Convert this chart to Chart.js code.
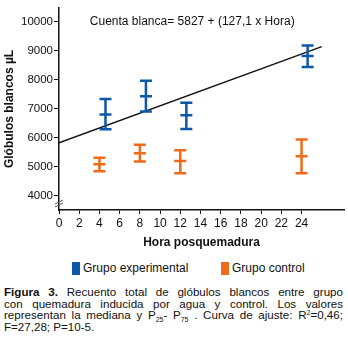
<!DOCTYPE html>
<html>
<head>
<meta charset="utf-8">
<script src="https://cdn.jsdelivr.net/npm/chart.js@4.4.1/dist/chart.umd.min.js"></script>
<style>
  body { margin: 0; background: #fff; font-family: "Liberation Sans", Arial, sans-serif; color: #111; }
  #wrap { position: relative; width: 348px; height: 338px; }
  #chartBox { position: absolute; left: 0; top: 0; width: 348px; height: 254px; }
  .leg { position: absolute; top: 261px; font-size: 12px; line-height: 14px; }
  .leg i { position: absolute; top: 1px; width: 8px; height: 13px; }
  .leg span { position: absolute; top: 0; white-space: nowrap; }
  #caption { position: absolute; left: 4px; top: 286px; width: 339px; font-size: 11.6px; line-height: 11.6px; }
  #caption div { text-align: justify; text-align-last: justify; white-space: nowrap; }
  #caption div.last { text-align-last: left; }
  sub { font-size: 7px; vertical-align: -3px; line-height: 0; }
  sup { font-size: 7px; vertical-align: 4px; line-height: 0; }
</style>
</head>
<body>
<div id="wrap">
  <div id="chartBox"><canvas id="wbcChart" width="348" height="254"></canvas></div>
  <div class="leg" style="left:72px"><i style="left:0;background:#0b57a8"></i><span style="left:11px">Grupo experimental</span></div>
  <div class="leg" style="left:221px"><i style="left:0;background:#ef6a1a"></i><span style="left:11px">Grupo control</span></div>
  <div id="caption">
    <div><b>Figura 3.</b> Recuento total de glóbulos blancos entre grupo</div>
    <div>con quemadura inducida por agua y control. Los valores</div>
    <div>representan la mediana y P<sub>25</sub>- P<sub>75</sub> . Curva de ajuste: R<sup>2</sup>=0,46;</div>
    <div class="last">F=27,28; P=10-5.</div>
  </div>
</div>
<script>
// hours post-burn
const hours = [4, 8, 12, 24]
const expOffset = 0.6 // experimental bars sit a bit to the right of the tick

// experimental group: median, P25, P75
const expMedian = [6800, 7430, 6770, 8810]
const expP25 = [6290, 6900, 6300, 8430]
const expP75 = [7330, 7960, 7200, 9170]

// control group
const ctrlMedian = [5090, 5470, 5200, 5360]
const ctrlP25 = [4850, 5180, 4780, 4780]
const ctrlP75 = [5310, 5760, 5570, 5940]

// fit line: Cuenta blanca = 5827 + 127,1 x Hora
const fitX = [0, 26]
const fitY = [5827, 9132]

const xTicks = [0, 2, 4, 6, 8, 10, 12, 14, 16, 18, 20, 22, 24]
const yTicks = [4000, 5000, 6000, 7000, 8000, 9000, 10000]

const BLUE = "#0b57a8"
const ORANGE = "#ef6a1a"
const FONT = "'Liberation Sans', Arial, sans-serif"

function groupPoints(offset, med, lo, hi) {
  return hours.map((h, i) => ({ x: h + offset, y: med[i], lo: lo[i], hi: hi[i] }))
}

const errorBars = {
  id: "errorBars",
  afterDatasetsDraw(chart) {
    const ctx = chart.ctx
    const ys = chart.scales.y
    chart.data.datasets.forEach((ds, di) => {
      if (!ds.errorBars) return
      const meta = chart.getDatasetMeta(di)
      ctx.save()
      ctx.strokeStyle = ds.borderColor
      ctx.lineWidth = 2.5
      meta.data.forEach((pt, i) => {
        const raw = ds.data[i]
        const x = pt.x
        const yLo = ys.getPixelForValue(raw.lo)
        const yHi = ys.getPixelForValue(raw.hi)
        const yMed = pt.y
        ctx.beginPath()
        ctx.moveTo(x, yLo); ctx.lineTo(x, yHi)
        ;[yLo, yMed, yHi].forEach((yy) => { ctx.moveTo(x - 6, yy); ctx.lineTo(x + 6, yy) })
        ctx.stroke()
      })
      ctx.restore()
    })
  },
  afterDraw(chart) {
    const ctx = chart.ctx
    const a = chart.chartArea
    // fit equation
    ctx.save()
    ctx.fillStyle = "#111"
    ctx.font = "12px " + FONT
    ctx.textBaseline = "middle"
    ctx.fillText("Cuenta blanca= 5827 + (127,1 x Hora)", chart.scales.x.getPixelForValue(3.05), chart.scales.y.getPixelForValue(10000))
    // axis break marks
    ctx.strokeStyle = "#555"
    ctx.lineWidth = 1
    ;[0, 3].forEach((d) => {
      ctx.beginPath()
      ctx.moveTo(a.left - 4, a.bottom - 3 - d)
      ctx.lineTo(a.left + 4, a.bottom - 7 - d)
      ctx.stroke()
    })
    ctx.restore()
  },
}

const ctx = document.getElementById("wbcChart").getContext("2d")
new Chart(ctx, {
  type: "scatter",
  data: {
    datasets: [
      {
        label: "Grupo experimental",
        data: groupPoints(expOffset, expMedian, expP25, expP75),
        borderColor: BLUE,
        backgroundColor: BLUE,
        pointRadius: 0,
        errorBars: true,
      },
      {
        label: "Grupo control",
        data: groupPoints(0, ctrlMedian, ctrlP25, ctrlP75),
        borderColor: ORANGE,
        backgroundColor: ORANGE,
        pointRadius: 0,
        errorBars: true,
      },
      {
        type: "line",
        label: "Ajuste",
        data: fitX.map((x, i) => ({ x: x, y: fitY[i] })),
        borderColor: "#111",
        borderWidth: 1.5,
        pointRadius: 0,
        fill: false,
      },
    ],
  },
  options: {
    responsive: false,
    animation: false,
    events: [],
    layout: { padding: { top: 0, right: 4, bottom: 0, left: 0 } },
    plugins: {
      legend: { display: false },
      tooltip: { enabled: false },
    },
    scales: {
      x: {
        type: "linear",
        min: 0,
        max: 28.2,
        afterBuildTicks: (s) => { s.ticks = xTicks.map((v) => ({ value: v })) },
        afterFit: (s) => { s.height = 44 },
        grid: { drawOnChartArea: false, drawTicks: true, tickLength: 4, color: "#111" },
        border: { color: "#111", width: 1.5 },
        ticks: { color: "#111", font: { family: FONT, size: 12 }, padding: 2, maxRotation: 0, autoSkip: false },
        title: {
          display: true,
          text: "Hora posquemadura",
          color: "#111",
          font: { family: FONT, size: 12, weight: "bold" },
          padding: { top: 0, bottom: 4 },
        },
      },
      y: {
        type: "linear",
        min: 3515,
        max: 10465,
        afterBuildTicks: (s) => { s.ticks = yTicks.map((v) => ({ value: v })) },
        afterFit: (s) => { s.width = 59 },
        grid: { drawOnChartArea: false, drawTicks: true, tickLength: 5, color: "#111" },
        border: { color: "#111", width: 1.5 },
        ticks: { color: "#111", font: { family: FONT, size: 11.5 }, padding: 1, callback: (v) => String(v) },
        title: {
          display: true,
          text: "Glóbulos blancos µL",
          color: "#111",
          font: { family: FONT, size: 12, weight: "bold" },
          padding: { top: 2, bottom: 0 },
        },
      },
    },
  },
  plugins: [errorBars],
})
</script>
</body>
</html>
